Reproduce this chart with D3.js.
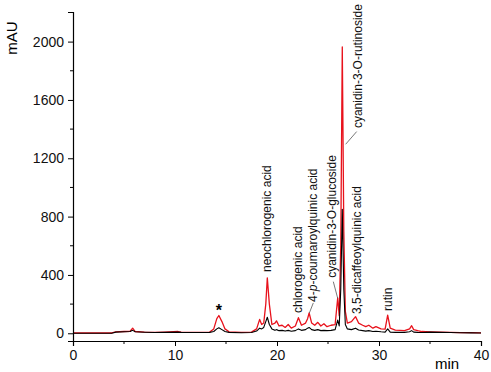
<!DOCTYPE html>
<html>
<head>
<meta charset="utf-8">
<script src="https://cdn.jsdelivr.net/npm/d3@7"></script>
<style>
html,body{margin:0;padding:0;background:#fff;}
svg{display:block;font-family:"Liberation Sans",Arial,sans-serif;}
</style>
</head>
<body>
<div id="chart"></div>
<script>
// retention time (min)
const time = [0,3.8,4.2,5.0,5.6,5.85,6.1,7,8,9,10.3,10.6,12,13.4,13.8,14.1,14.3,14.6,14.9,15.3,16.5,17.5,
18.0,18.3,18.5,18.7,18.9,19.05,19.25,19.5,19.8,19.95,20.2,20.5,20.8,21.1,21.4,21.8,22.1,22.4,22.8,23.0,23.15,
23.4,23.7,24.0,24.3,24.6,24.9,25.3,25.7,25.95,26.1,26.25,26.4,26.55,26.7,26.9,27.3,27.7,28.0,28.4,28.7,29.0,
29.4,29.7,30.2,30.6,30.85,31.1,31.6,32.5,33.0,33.2,33.4,33.8,34.2,35,36,37,38,39,40];

// red trace (mAU)
const redTrace = [2,2,10,12,14,35,12,8,6,8,12,8,6,8,30,100,122,80,30,10,6,8,
30,95,60,70,200,380,200,60,70,85,50,55,40,60,35,50,107,55,70,100,139,
70,55,75,50,65,45,55,60,242,120,600,1963,700,150,70,80,114,70,55,45,55,
35,45,30,28,125,35,22,18,30,52,25,18,12,10,8,6,5,4,3];

// black trace (mAU)
const blackTrace = [0,0,8,10,12,20,10,7,5,6,8,6,5,6,12,30,38,25,12,6,4,5,
15,35,30,40,80,110,60,30,20,25,18,20,15,20,14,18,30,20,25,35,40,
25,20,25,18,20,18,20,25,90,50,300,850,300,60,30,25,35,22,18,15,18,
12,14,10,8,30,8,6,6,10,18,8,6,5,8,6,5,4,3,2];

const xTicks = [0,10,20,30,40];
const yTicks = [0,400,800,1200,1600,2000];

// peak labels: text start (t, v)
const peakNames = ["neochlorogenic acid","chlorogenic acid","4-p-coumaroylquinic acid","cyanidin-3-O-glucoside",
"cyanidin-3-O-rutinoside","3,5-dicaffeoylquinic acid","rutin"];
const labelT = [19.41,22.45,23.92,25.78,28.33,28.24,31.27];
const labelV = [420,139,215,380,1407,132,153];

// leader lines [t1,v1,t2,v2]
const leaders = [[23.56,208,23.17,139],[25.52,354,25.95,240],[27.81,1383,26.73,1296]];

const width = 491;
const height = 372;

const svg = d3.select("#chart")
.append("svg")
.attr("width",width)
.attr("height",height);

const x = d3.scaleLinear().domain([0,40]).range([73,481]);
const y = d3.scaleLinear().domain([-53,2203]).range([341,12]);

const line = d3.line()
.x(d=>x(d[0]))
.y(d=>y(d[1]));

const redData = time.map((t,i)=>[t,redTrace[i]]);
const blackData = time.map((t,i)=>[t,blackTrace[i]]);

svg.append("path")
.datum(redData)
.attr("d",line)
.attr("fill","none")
.attr("stroke","#e8121c")
.attr("stroke-width",1.3)
.attr("stroke-linejoin","round");

svg.append("path")
.datum(blackData)
.attr("d",line)
.attr("fill","none")
.attr("stroke","#000")
.attr("stroke-width",1.1)
.attr("stroke-linejoin","round");

// axes
const xAxis = svg.append("g")
.attr("transform",`translate(0,341)`)
.call(d3.axisBottom(x).tickValues(xTicks).tickSize(5).tickPadding(4).tickFormat(d3.format("d")));

xAxis.selectAll(".minor")
.data([5,15,25,35])
.enter()
.append("line")
.attr("x1",d=>x(d)).attr("x2",d=>x(d))
.attr("y1",0).attr("y2",3)
.attr("stroke","#000");

const yAxis = svg.append("g")
.attr("transform",`translate(73,0)`)
.call(d3.axisLeft(y).tickValues(yTicks).tickSize(5).tickPadding(4).tickFormat(d3.format("d")));

yAxis.selectAll(".minor")
.data([200,600,1000,1400,1800])
.enter()
.append("line")
.attr("x1",0).attr("x2",-3)
.attr("y1",d=>y(d)).attr("y2",d=>y(d))
.attr("stroke","#000");

[xAxis,yAxis].forEach(g=>{
g.select(".domain").attr("stroke","#000").attr("stroke-width",1.2);
g.selectAll("text").attr("font-size","14px").attr("fill","#111").attr("font-family","Liberation Sans, Arial, sans-serif");
});

// axis titles
svg.append("text")
.attr("transform","translate(17,38) rotate(-90)")
.attr("text-anchor","middle")
.attr("font-size","15px")
.text("mAU");

svg.append("text")
.attr("x",447)
.attr("y",369)
.attr("text-anchor","middle")
.attr("font-size","15px")
.text("min");

// peak labels
peakNames.forEach((name,i)=>{
const t = svg.append("text")
.attr("transform",`translate(${x(labelT[i])},${y(labelV[i])}) rotate(-90)`)
.attr("font-size","12px")
.attr("fill","#111");
if(name.indexOf("-p-")>=0){
t.append("tspan").text("4-");
t.append("tspan").attr("font-style","italic").text("p");
t.append("tspan").text("-coumaroylquinic acid");
}else{
t.text(name);
}
});

svg.selectAll(".leader")
.data(leaders)
.enter()
.append("line")
.attr("x1",d=>x(d[0])).attr("y1",d=>y(d[1]))
.attr("x2",d=>x(d[2])).attr("y2",d=>y(d[3]))
.attr("stroke","#555")
.attr("stroke-width",0.8);

svg.append("text")
.attr("x",x(14.3))
.attr("y",316)
.attr("text-anchor","middle")
.attr("font-size","16px")
.attr("font-weight","bold")
.text("*");
</script>
</body>
</html>
